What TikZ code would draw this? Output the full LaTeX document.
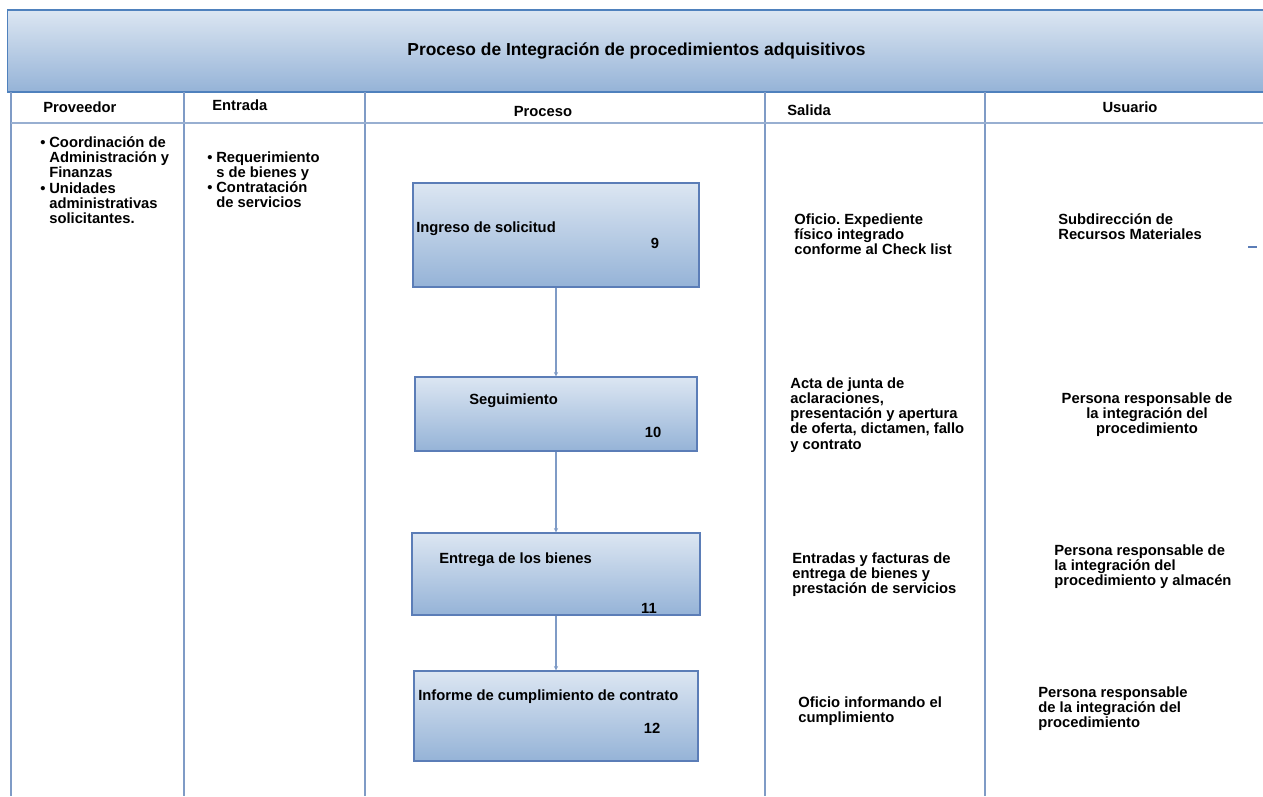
\documentclass[tikz,border=0pt]{standalone}
\usepackage{fontspec}
\setmainfont{Liberation Sans}
\usetikzlibrary{arrows.meta}
\frenchspacing

\definecolor{bandtop}{HTML}{DCE6F2}
\definecolor{bandbot}{HTML}{95B3D7}
\definecolor{bandline}{HTML}{4F81BD}
\definecolor{gridline}{HTML}{7F9BC6}
\definecolor{boxline}{HTML}{5B7DB7}

\newcommand{\blt}{\makebox[0.18cm][l]{\textbullet}}
\newcommand{\ind}{\hspace*{0.18cm}}

\begin{document}
\begin{tikzpicture}[x=0.02cm,y=-0.02cm,
    font=\fontsize{8.4}{8.7}\selectfont\bfseries]

      \useasboundingbox (0,0) rectangle (1263,796);

      \node[draw=bandline, line width=0.6pt, top color=bandtop, bottom color=bandbot,
            minimum width=25.18cm, minimum height=1.64cm, inner sep=0pt,
            font=\fontsize{9.9}{11}\selectfont\bfseries]
            (head) at (636.5,51) {Proceso de Integración de procedimientos adquisitivos};

      \draw[gridline, line width=0.7pt] (11,92) -- (11,796);
      \draw[gridline, line width=0.7pt] (184,92) -- (184,796);
      \draw[gridline, line width=0.7pt] (365,92) -- (365,796);
      \draw[gridline, line width=0.7pt] (765,92) -- (765,796);
      \draw[gridline, line width=0.7pt] (985,92) -- (985,796);
      \draw[gridline!80, line width=0.7pt] (11,123) -- (1263,123);
      \draw[boxline, line width=0.6pt] (1248,247) -- (1257,247);

      \begin{scope}[every node/.style={inner sep=0pt}]
        \node[anchor=base west] (hprov) at (43,112)   {Proveedor};
        \node[anchor=base west] (hent)  at (212,110)  {Entrada};
        \node[anchor=base]      (hproc) at (543,116)  {Proceso};
        \node[anchor=base west] (hsal)  at (787,115)  {Salida};
        \node[anchor=base]      (husu)  at (1130,112) {Usuario};
      \end{scope}

      \begin{scope}[every node/.style={anchor=north west, align=left, inner sep=0pt}]
        \node (prov) at (40,136)  {\blt Coordinación de\\\ind Administración y\\\ind Finanzas\\\blt Unidades\\\ind administrativas\\\ind solicitantes.};
        \node (ent)  at (207,151) {\blt Requerimiento\\\ind s de bienes y\\\blt Contratación\\\ind de servicios};

        \node (sal9)  at (794,213) {Oficio. Expediente\\físico integrado\\conforme al Check list};
        \node (sal10) at (790,377) {Acta de junta de\\aclaraciones,\\presentación y apertura\\de oferta, dictamen, fallo\\y contrato};
        \node (sal11) at (792,552) {Entradas y facturas de\\entrega de bienes y\\prestación de servicios};
        \node (sal12) at (798,696) {Oficio informando el\\cumplimiento};

        \node (usu9)  at (1058,213) {Subdirección de\\Recursos Materiales};
        \node[anchor=north, align=center] (usu10) at (1147,392) {Persona responsable de\\la integración del\\procedimiento};
        \node (usu11) at (1054,544) {Persona responsable de\\la integración del\\procedimiento y almacén};
        \node (usu12) at (1038,686) {Persona responsable\\de la integración del\\procedimiento};
      \end{scope}

      \begin{scope}[every node/.style={draw=boxline, line width=0.7pt,
                    top color=bandtop, bottom color=bandbot, inner sep=0pt}]
        \node[minimum width=5.72cm, minimum height=2.08cm] (b9)  at (556,235) {};
        \node[minimum width=5.64cm, minimum height=1.48cm] (b10) at (556,414) {};
        \node[minimum width=5.76cm, minimum height=1.64cm] (b11) at (556,574) {};
        \node[minimum width=5.68cm, minimum height=1.80cm] (b12) at (556,716) {};
      \end{scope}

      \begin{scope}[every node/.style={anchor=base west, inner sep=0pt}]
        \node (t9)  at (416,232) {Ingreso de solicitud};
        \node (t10) at (469,404) {Seguimiento};
        \node (t11) at (439,563) {Entrega de los bienes};
        \node (t12) at (418,700) {Informe de cumplimiento de contrato};
        \node[anchor=base] (n9)  at (655,248) {9};
        \node[anchor=base] (n10) at (653,437) {10};
        \node[anchor=base] (n11) at (649,613) {11};
        \node[anchor=base] (n12) at (652,733) {12};
      \end{scope}

      \begin{scope}[every edge/.style={draw=gridline, line width=0.9pt,
                    -{Stealth[length=2.5pt,width=2.5pt]}}]
        \path (b9) edge (b10);
        \path (b10) edge (b11);
        \path (b11) edge (b12);
      \end{scope}

    \end{tikzpicture}
\end{document}
